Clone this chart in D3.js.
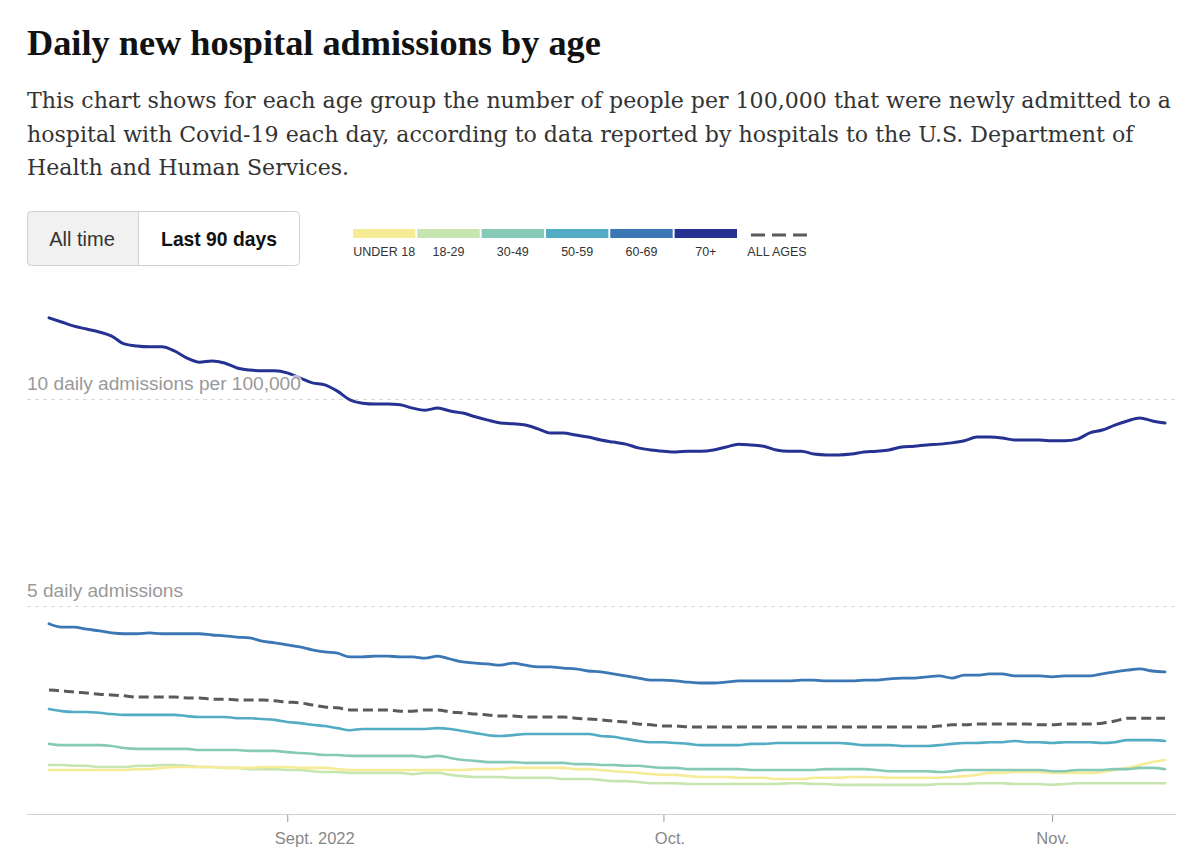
<!DOCTYPE html>
<html>
<head>
<meta charset="utf-8">
<script src="https://cdn.jsdelivr.net/npm/d3@7"></script>
<style>
  html, body { margin: 0; padding: 0; background: #fff; }
  svg { display: block; }
</style>
</head>
<body>
<svg id="chart" width="1200" height="856"></svg>
<script>
// ---------------- DATA ----------------
const titleText = "Daily new hospital admissions by age";
const subtitleLines = [
  "This chart shows for each age group the number of people per 100,000 that were newly admitted to a",
  "hospital with Covid-19 each day, according to data reported by hospitals to the U.S. Department of",
  "Health and Human Services."
];
const buttonLabels = ["All time", "Last 90 days"];

const startDate = new Date(2022, 7, 13); // Aug 13, 2022 (90 daily points to Nov 10)

const seriesNames = ["UNDER 18", "18-29", "30-49", "50-59", "60-69", "70+"];
const allAgesName = "ALL AGES";

const under18 = [1.04,1.04,1.04,1.04,1.04,1.04,1.04,1.06,1.06,1.09,
  1.11,1.11,1.11,1.11,1.09,1.09,1.09,1.11,1.11,1.11,
  1.09,1.09,1.09,1.06,1.04,1.04,1.04,1.04,1.04,1.04,
  1.04,1.04,1.04,1.04,1.06,1.06,1.06,1.09,1.09,1.09,
  1.09,1.09,1.06,1.06,1.04,1.01,0.99,0.97,0.94,0.92,
  0.92,0.89,0.87,0.87,0.87,0.85,0.85,0.85,0.82,0.82,
  0.82,0.85,0.85,0.85,0.87,0.87,0.87,0.85,0.85,0.85,
  0.85,0.85,0.87,0.89,0.92,0.97,0.97,0.99,0.99,0.99,
  0.97,0.97,0.97,0.97,0.99,1.04,1.09,1.16,1.23,1.28];

const age18to29 = [1.16,1.16,1.14,1.14,1.11,1.11,1.11,1.14,1.14,1.16,
  1.16,1.14,1.11,1.11,1.09,1.09,1.06,1.06,1.06,1.04,
  1.04,1.01,0.99,0.99,0.97,0.97,0.97,0.97,0.97,0.94,
  0.97,0.97,0.92,0.89,0.87,0.87,0.87,0.85,0.85,0.85,
  0.85,0.82,0.82,0.82,0.80,0.77,0.77,0.75,0.72,0.72,
  0.72,0.70,0.70,0.70,0.70,0.70,0.70,0.70,0.70,0.72,
  0.72,0.70,0.70,0.68,0.68,0.68,0.68,0.68,0.68,0.68,
  0.68,0.70,0.70,0.70,0.72,0.72,0.72,0.70,0.70,0.70,
  0.68,0.70,0.72,0.72,0.72,0.72,0.72,0.72,0.72,0.72];

const age30to49 = [1.67,1.64,1.64,1.64,1.64,1.62,1.57,1.55,1.55,1.55,
  1.55,1.55,1.52,1.52,1.52,1.52,1.50,1.50,1.50,1.47,
  1.45,1.43,1.40,1.40,1.38,1.38,1.38,1.38,1.38,1.38,
  1.35,1.38,1.33,1.28,1.26,1.23,1.23,1.23,1.21,1.21,
  1.21,1.21,1.18,1.18,1.16,1.16,1.14,1.14,1.11,1.09,
  1.09,1.06,1.06,1.06,1.06,1.06,1.04,1.04,1.04,1.04,
  1.04,1.04,1.06,1.06,1.06,1.06,1.04,1.01,1.01,1.01,
  1.01,0.99,1.01,1.04,1.04,1.04,1.04,1.04,1.04,1.04,
  1.01,1.01,1.04,1.04,1.04,1.06,1.06,1.09,1.09,1.06];

const age50to59 = [2.51,2.46,2.44,2.44,2.42,2.39,2.37,2.37,2.37,2.37,
  2.37,2.34,2.32,2.32,2.32,2.29,2.29,2.27,2.25,2.20,
  2.17,2.13,2.10,2.05,2.00,2.03,2.03,2.03,2.03,2.03,
  2.03,2.05,2.03,1.98,1.93,1.88,1.86,1.88,1.91,1.91,
  1.91,1.91,1.91,1.91,1.86,1.84,1.79,1.74,1.71,1.71,
  1.69,1.67,1.64,1.64,1.64,1.64,1.67,1.67,1.69,1.69,
  1.69,1.69,1.69,1.69,1.67,1.64,1.64,1.64,1.62,1.62,
  1.62,1.64,1.67,1.69,1.69,1.71,1.71,1.74,1.71,1.71,
  1.69,1.71,1.71,1.71,1.69,1.71,1.76,1.76,1.76,1.74];

const age60to69 = [4.57,4.49,4.49,4.44,4.40,4.35,4.33,4.33,4.35,4.33,
  4.33,4.33,4.33,4.30,4.28,4.25,4.23,4.15,4.11,4.06,
  4.01,3.94,3.89,3.86,3.77,3.77,3.79,3.79,3.77,3.77,
  3.74,3.79,3.72,3.65,3.62,3.60,3.57,3.62,3.57,3.53,
  3.53,3.50,3.48,3.43,3.41,3.36,3.31,3.26,3.21,3.21,
  3.19,3.16,3.14,3.14,3.16,3.19,3.19,3.19,3.19,3.19,
  3.21,3.21,3.19,3.19,3.19,3.21,3.21,3.24,3.26,3.26,
  3.29,3.31,3.26,3.33,3.33,3.36,3.36,3.31,3.31,3.31,
  3.29,3.31,3.31,3.31,3.36,3.41,3.45,3.48,3.43,3.41];

const age70plus = [11.96,11.86,11.76,11.69,11.62,11.52,11.33,11.28,11.26,11.26,
  11.16,10.99,10.89,10.92,10.87,10.75,10.70,10.68,10.68,10.63,
  10.51,10.39,10.34,10.19,9.98,9.90,9.88,9.88,9.86,9.78,
  9.73,9.78,9.71,9.66,9.57,9.49,9.42,9.40,9.37,9.28,
  9.18,9.18,9.13,9.08,9.01,8.96,8.91,8.82,8.77,8.74,
  8.72,8.74,8.74,8.77,8.84,8.91,8.89,8.86,8.77,8.74,
  8.74,8.67,8.65,8.65,8.67,8.72,8.74,8.77,8.84,8.86,
  8.89,8.91,8.94,8.99,9.08,9.08,9.06,9.01,9.01,9.01,
  8.99,8.99,9.03,9.18,9.25,9.37,9.47,9.54,9.47,9.42];

const allAges = [2.97,2.95,2.92,2.90,2.87,2.85,2.83,2.80,2.80,2.80,
  2.80,2.78,2.78,2.75,2.75,2.73,2.73,2.73,2.71,2.68,
  2.66,2.61,2.56,2.54,2.49,2.49,2.49,2.49,2.46,2.46,
  2.49,2.49,2.44,2.42,2.39,2.37,2.34,2.34,2.32,2.32,
  2.32,2.32,2.29,2.27,2.25,2.22,2.20,2.15,2.13,2.10,
  2.10,2.08,2.08,2.08,2.08,2.08,2.08,2.08,2.08,2.08,
  2.08,2.08,2.08,2.08,2.08,2.08,2.08,2.08,2.08,2.08,
  2.08,2.10,2.13,2.13,2.15,2.15,2.15,2.15,2.15,2.13,
  2.13,2.15,2.15,2.15,2.17,2.22,2.29,2.29,2.29,2.29];

const seriesValues = [under18, age18to29, age30to49, age50to59, age60to69, age70plus];

const yTickValues = [5, 10];
const yTickLabels = ["5 daily admissions", "10 daily admissions per 100,000"];

const xTickDates = [new Date(2022, 8, 1), new Date(2022, 9, 1), new Date(2022, 10, 1)];
const xTickLabels = ["Sept. 2022", "Oct.", "Nov."];

// ---------------- STYLE / LAYOUT ----------------
const colors = ["#f6eb97", "#c6e5b1", "#86c9b6", "#52acc4", "#3b76b5", "#253292"];
const allAgesColor = "#5a5a5a";
const xLabelShift = [27, 6, 0]; // label offsets relative to ticks, as in the original
const sansFont = "'Liberation Sans', Arial, sans-serif";

const svg = d3.select("#chart");

// Dates
const dates = allAges.map((_, i) => d3.timeDay.offset(startDate, i));

// Scales
const x = d3.scaleTime().domain(d3.extent(dates)).range([49, 1165]);
const y = d3.scaleLinear().domain([0, 10]).range([813, 399]);

// Title
const title = svg.append("text")
  .attr("x", 27).attr("y", 55)
  .attr("font-family", "'Liberation Serif', 'Times New Roman', serif")
  .attr("font-weight", "bold")
  .attr("font-size", 34)
  .attr("fill", "#121212")
  .text(titleText);
(function fit() {
  const target = 574;
  const len = title.node().getComputedTextLength();
  title.attr("font-size", 34 * target / len);
})();

// Subtitle
const subFont = "'DejaVu Serif', Georgia, serif";
const sub = svg.append("g");
subtitleLines.forEach((line, i) => {
  sub.append("text")
    .attr("x", 27).attr("y", 108 + i * 33.5)
    .attr("font-family", subFont)
    .attr("font-size", 21)
    .attr("fill", "#333")
    .text(line);
});
(function fitSub() {
  const first = sub.select("text").node();
  const len = first.getComputedTextLength();
  const fs = 21 * 1145 / len;
  sub.selectAll("text").attr("font-size", fs);
})();

// Buttons
const btn = svg.append("g");
btn.append("path")
  .attr("d", "M138,211 H31 Q27,211 27,215 V262 Q27,266 31,266 H138 Z")
  .attr("fill", "#f1f1f1");
btn.append("rect")
  .attr("x", 27.5).attr("y", 211.5).attr("width", 272).attr("height", 54)
  .attr("rx", 4).attr("fill", "none").attr("stroke", "#d0d0d0");
btn.append("line")
  .attr("x1", 138.5).attr("x2", 138.5).attr("y1", 211.5).attr("y2", 265.5)
  .attr("stroke", "#d0d0d0");
btn.append("text")
  .attr("x", 82).attr("y", 246).attr("text-anchor", "middle")
  .attr("font-family", sansFont).attr("font-size", 20).attr("fill", "#333")
  .text(buttonLabels[0]);
btn.append("text")
  .attr("x", 219).attr("y", 246).attr("text-anchor", "middle")
  .attr("font-family", sansFont).attr("font-size", 19.3).attr("font-weight", "bold").attr("fill", "#121212")
  .text(buttonLabels[1]);

// Legend
const legend = svg.append("g");
const legX = d3.scaleBand().domain(seriesNames).range([353, 737]).paddingInner(0.03);
legend.selectAll("rect.sw").data(seriesNames).join("rect")
  .attr("class", "sw")
  .attr("x", d => legX(d)).attr("y", 229)
  .attr("width", legX.bandwidth()).attr("height", 9)
  .attr("fill", (d, i) => colors[i]);
legend.selectAll("text.lab").data(seriesNames).join("text")
  .attr("class", "lab")
  .attr("x", d => legX(d) + legX.bandwidth() / 2).attr("y", 256)
  .attr("text-anchor", "middle")
  .attr("font-family", sansFont).attr("font-size", 12.5).attr("fill", "#333")
  .text(d => d);
legend.append("line")
  .attr("x1", 751).attr("x2", 807).attr("y1", 235).attr("y2", 235)
  .attr("stroke", allAgesColor).attr("stroke-width", 3).attr("stroke-dasharray", "14,7");
legend.append("text")
  .attr("x", 777).attr("y", 256).attr("text-anchor", "middle")
  .attr("font-family", sansFont).attr("font-size", 12.5).attr("fill", "#333")
  .text(allAgesName);

// Gridlines
const grid = svg.append("g");
grid.selectAll("line").data(yTickValues).join("line")
  .attr("x1", 27).attr("x2", 1176)
  .attr("y1", d => y(d) + 0.5).attr("y2", d => y(d) + 0.5)
  .attr("stroke", "#d9d9d9").attr("stroke-dasharray", "4,4");

// X axis
const xAxis = d3.axisBottom(x)
  .tickValues(xTickDates)
  .tickFormat((d, i) => xTickLabels[i])
  .tickSize(8).tickPadding(10);
const gx = svg.append("g").attr("transform", "translate(0,814)").call(xAxis);
gx.select(".domain").remove();
gx.selectAll(".tick line").attr("stroke", "#999");
gx.selectAll(".tick text")
  .attr("font-family", sansFont).attr("font-size", 16.5).attr("fill", "#888")
  .attr("dx", (d, i) => xLabelShift[i]);
svg.append("line").attr("x1", 27).attr("x2", 1176).attr("y1", 814.5).attr("y2", 814.5)
  .attr("stroke", "#d0d0d0");

// Lines
const lineGen = d3.line()
  .x((d, i) => x(dates[i]))
  .y(d => y(d))
  .curve(d3.curveMonotoneX);

const drawOrder = [1, 0, 2, 3];
const lines = svg.append("g").attr("fill", "none").attr("stroke-linejoin", "round").attr("stroke-linecap", "round");
drawOrder.forEach(k => {
  lines.append("path").attr("d", lineGen(seriesValues[k]))
    .attr("stroke", colors[k]).attr("stroke-width", 2.6);
});
lines.append("path").attr("d", lineGen(allAges))
  .attr("stroke", allAgesColor).attr("stroke-width", 3)
  .attr("stroke-linecap", "butt")
  .attr("stroke-dasharray", "10,5");
lines.append("path").attr("d", lineGen(seriesValues[4]))
  .attr("stroke", colors[4]).attr("stroke-width", 2.8);
lines.append("path").attr("d", lineGen(seriesValues[5]))
  .attr("stroke", colors[5]).attr("stroke-width", 3);

// Gridline labels (on top with white halo)
svg.append("g").selectAll("text").data(yTickValues).join("text")
  .attr("x", 27).attr("y", d => y(d) - 9)
  .attr("font-family", sansFont).attr("font-size", 19.1).attr("fill", "#999")
  .attr("stroke", "#fff").attr("stroke-width", 4).attr("stroke-opacity", 0.7)
  .attr("paint-order", "stroke")
  .text((d, i) => yTickLabels[i]);
</script>
</body>
</html>
